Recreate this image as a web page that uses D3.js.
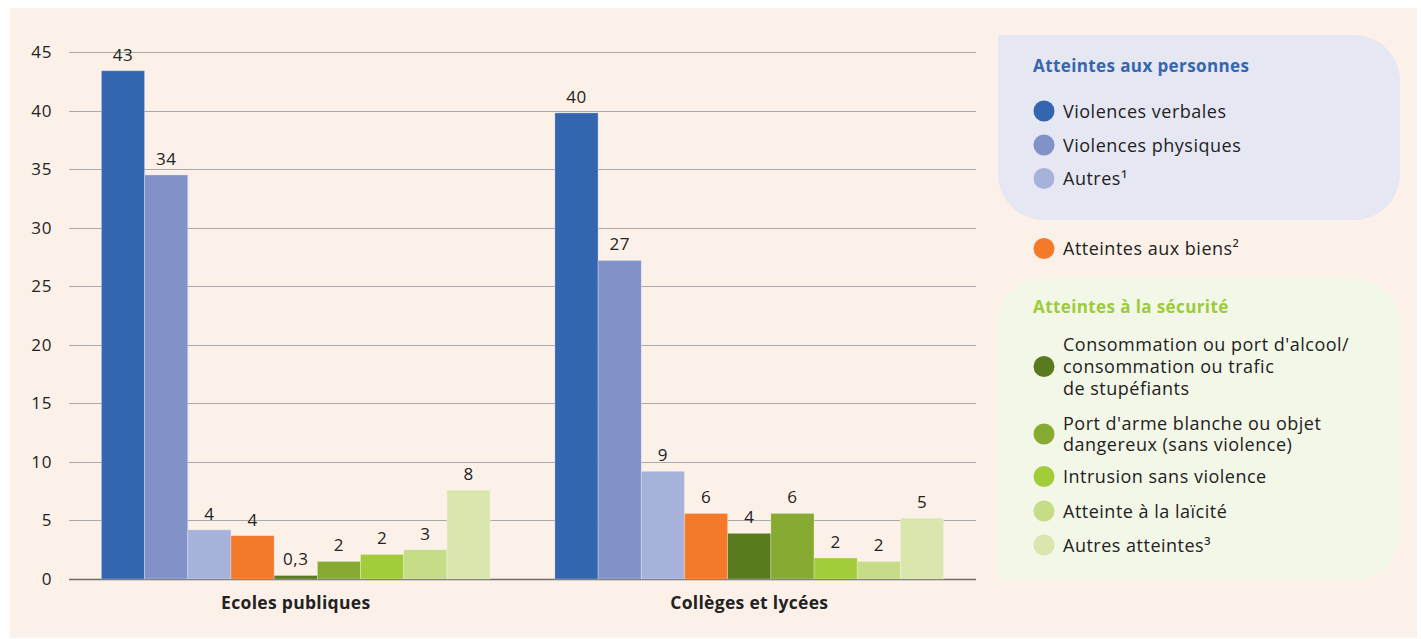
<!DOCTYPE html>
<html>
<head>
<meta charset="utf-8">
<script src="https://cdn.jsdelivr.net/npm/d3@7"></script>
<style>
  html, body { margin: 0; padding: 0; background: #ffffff; }
  svg { display: block; }
  text { font-family: "Open Sans", "Noto Sans", sans-serif; fill: #222222; }
</style>
</head>
<body>
<svg id="chart" width="1421" height="639"></svg>
<script>
// ---- Data ----
const groups = ["Ecoles publiques", "Collèges et lycées"];
const seriesNames = [
  "Violences verbales",
  "Violences physiques",
  "Autres¹",
  "Atteintes aux biens²",
  "Consommation ou port d'alcool/ consommation ou trafic de stupéfiants",
  "Port d'arme blanche ou objet dangereux (sans violence)",
  "Intrusion sans violence",
  "Atteinte à la laïcité",
  "Autres atteintes³"
];
const seriesColors = ["#3466b0", "#8192c8", "#a6b2da", "#f47929", "#5a7a1e", "#87aa32", "#a3cc3a", "#c6dc86", "#d9e7ae"];
const ecolesValues = [43.4, 34.5, 4.2, 3.7, 0.3, 1.5, 2.1, 2.5, 7.6];
const collegesValues = [39.8, 27.2, 9.2, 5.6, 3.9, 5.6, 1.8, 1.5, 5.2];
const ecolesLabels = ["43", "34", "4", "4", "0,3", "2", "2", "3", "8"];
const collegesLabels = ["40", "27", "9", "6", "4", "6", "2", "2", "5"];
const yTicks = [0, 5, 10, 15, 20, 25, 30, 35, 40, 45];

const legendPersonnesTitle = "Atteintes aux personnes";
const legendPersonnes = [
  { idx: 0, lines: ["Violences verbales"] },
  { idx: 1, lines: ["Violences physiques"] },
  { idx: 2, lines: ["Autres¹"] }
];
const legendBiens = [{ idx: 3, lines: ["Atteintes aux biens²"] }];
const legendSecuriteTitle = "Atteintes à la sécurité";
const legendSecurite = [
  { idx: 4, lines: ["Consommation ou port d'alcool/", "consommation ou trafic", "de stupéfiants"] },
  { idx: 5, lines: ["Port d'arme blanche ou objet", "dangereux (sans violence)"] },
  { idx: 6, lines: ["Intrusion sans violence"] },
  { idx: 7, lines: ["Atteinte à la laïcité"] },
  { idx: 8, lines: ["Autres atteintes³"] }
];

const valuesByGroup = [ecolesValues, collegesValues];
const labelsByGroup = [ecolesLabels, collegesLabels];

const FONT = "'Open Sans', 'Noto Sans', sans-serif";

// ---- Layout ----
const svg = d3.select("#chart");
svg.append("rect").attr("x", 10).attr("y", 8).attr("width", 1407).attr("height", 630).attr("fill", "#fcf1e9");

const plot = { left: 69, right: 976, top: 52, bottom: 579 };

const y = d3.scaleLinear().domain([0, 45]).range([plot.bottom, plot.top]);
const x0 = d3.scaleBand().domain(groups).range([plot.left, plot.right]).paddingInner(0).paddingOuter(0);
const x1 = d3.scaleBand().domain(d3.range(seriesNames.length)).range([0, x0.bandwidth()]).paddingInner(0).paddingOuter(0.75);

// gridlines
const grid = svg.append("g");
grid.selectAll("line").data(yTicks).join("line")
  .attr("x1", plot.left).attr("x2", plot.right)
  .attr("y1", d => Math.round(y(d)) + 0.5).attr("y2", d => Math.round(y(d)) + 0.5)
  .attr("stroke", d => d === 0 ? "#6e6e6e" : "#a9a9a9")
  .attr("stroke-width", d => d === 0 ? 1.5 : 1);

// y axis labels
const yAxis = d3.axisLeft(y).tickValues(yTicks).tickSize(0).tickPadding(0).tickFormat(d3.format("d"));
const ya = svg.append("g").attr("transform", `translate(${plot.left - 17},0)`).call(yAxis);
ya.select(".domain").remove();
ya.selectAll("text").attr("font-size", 17).attr("letter-spacing", 0.6).attr("fill", "#222").attr("font-family", FONT);

// bars
const gGroups = svg.append("g").selectAll("g").data(groups).join("g")
  .attr("transform", d => `translate(${x0(d)},0)`);

gGroups.each(function(g, gi) {
  const sel = d3.select(this);
  const vals = valuesByGroup[gi];
  sel.selectAll("rect").data(vals).join("rect")
    .attr("x", (d, i) => x1(i))
    .attr("width", x1.bandwidth())
    .attr("y", d => y(d))
    .attr("height", d => y(0) - y(d))
    .attr("fill", (d, i) => seriesColors[i])
    .attr("stroke", "#ffffff").attr("stroke-opacity", 0.35).attr("stroke-width", 0.8);
  sel.selectAll("text.vl").data(vals).join("text").attr("class", "vl")
    .attr("x", (d, i) => x1(i) + x1.bandwidth() / 2)
    .attr("y", d => y(d) - 10)
    .attr("text-anchor", "middle")
    .attr("font-size", 17).attr("letter-spacing", 0.5)
    .text((d, i) => labelsByGroup[gi][i]);
});

// x axis category labels
const xAxis = d3.axisBottom(x0).tickSize(0).tickPadding(0);
const xa = svg.append("g").attr("transform", `translate(0,${plot.bottom})`).call(xAxis);
xa.select(".domain").remove();
xa.selectAll("text").attr("font-size", 17.5).attr("font-weight", "bold").attr("letter-spacing", 0.3).attr("fill", "#222")
  .attr("font-family", FONT).attr("dy", null).attr("y", 30);

// ---- Legend ----
function roundedPath(x, yy, w, h, tl, tr, br, bl) {
  return `M${x + tl},${yy} H${x + w - tr} A${tr},${tr} 0 0 1 ${x + w},${yy + tr} V${yy + h - br} A${br},${br} 0 0 1 ${x + w - br},${yy + h} H${x + bl} A${bl},${bl} 0 0 1 ${x},${yy + h - bl} V${yy + tl} A${tl},${tl} 0 0 1 ${x + tl},${yy} Z`;
}
const leg = svg.append("g");
leg.append("path").attr("d", roundedPath(998, 35, 402, 185, 2, 46, 46, 46)).attr("fill", "#e5e7f3");
leg.append("path").attr("d", roundedPath(998, 278, 402, 302, 46, 46, 46, 2)).attr("fill", "#f3f7e8");

leg.append("text").attr("x", 1033).attr("y", 72).attr("font-size", 17).attr("font-weight", "bold").attr("letter-spacing", 0.4)
  .style("fill", "#3466b0").text(legendPersonnesTitle);
leg.append("text").attr("x", 1033).attr("y", 313).attr("font-size", 17).attr("font-weight", "bold").attr("letter-spacing", 0.4)
  .style("fill", "#9ccb3b").text(legendSecuriteTitle);

function drawItems(items, circleYs) {
  items.forEach((it, k) => {
    const cy = circleYs[k];
    leg.append("circle").attr("cx", 1044).attr("cy", cy).attr("r", 10.5).attr("fill", seriesColors[it.idx]);
    const n = it.lines.length;
    const lh = 21.7;
    const firstBase = cy + 6.5 - (n - 1) * lh / 2;
    const t = leg.append("text").attr("x", 1063).attr("font-size", 18).attr("letter-spacing", 0.5);
    it.lines.forEach((ln, j) => {
      t.append("tspan").attr("x", 1063).attr("y", firstBase + j * lh).text(ln);
    });
  });
}
drawItems(legendPersonnes, [111, 145, 178.5]);
drawItems(legendBiens, [248.5]);
drawItems(legendSecurite, [366.5, 434, 476.5, 511, 545]);
</script>
</body>
</html>
